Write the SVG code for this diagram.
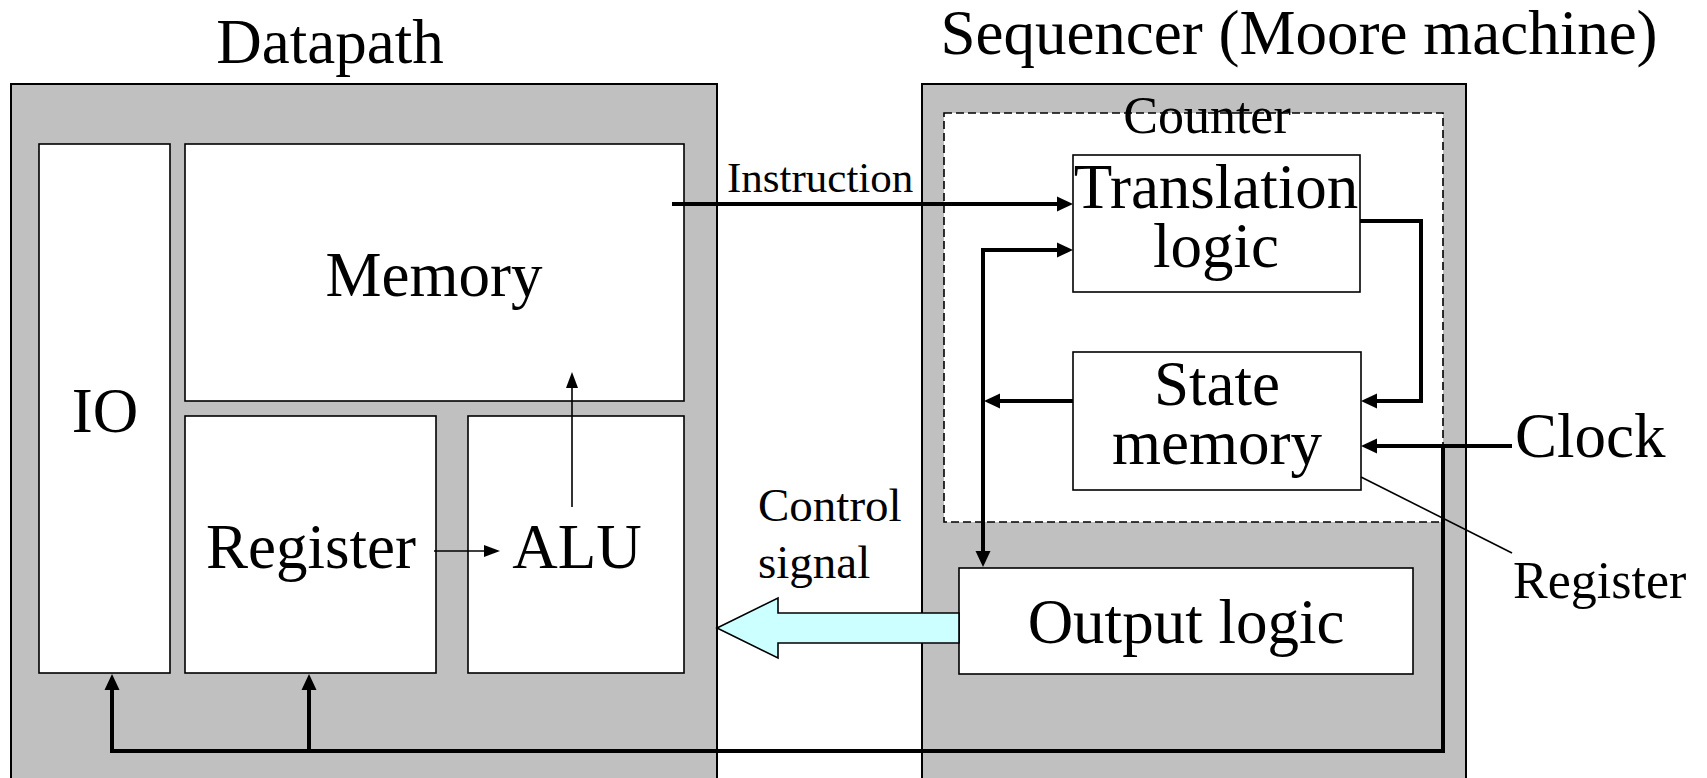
<svg xmlns="http://www.w3.org/2000/svg" width="1707" height="778" viewBox="0 0 1707 778">
<style>
  text { font-family: "Liberation Serif", "Times New Roman", serif; fill: #000; }
  .big { font-size: 63px; }
  .mid { font-size: 52px; }
  .sm { font-size: 47px; }
  .xs { font-size: 43px; }
  .frame { fill: #C0C0C0; stroke: #000; stroke-width: 2; }
  .box { fill: #FFFFFF; stroke: #000; stroke-width: 1.6; }
  .dash { fill: #FFFFFF; stroke: #000; stroke-width: 1.6; stroke-dasharray: 8 4; }
  .thick { fill: none; stroke: #000; stroke-width: 4; stroke-linejoin: miter; }
  .thin { fill: none; stroke: #000; stroke-width: 1.6; }
</style>
<defs>
  <marker id="ah" markerUnits="userSpaceOnUse" markerWidth="16" markerHeight="16" viewBox="0 0 16 16" refX="10" refY="8" orient="auto">
    <path d="M0,0.5 L16,8 L0,15.5 z" fill="#000"/>
  </marker>
  <marker id="as" markerUnits="userSpaceOnUse" markerWidth="16" markerHeight="12" viewBox="0 0 16 12" refX="12" refY="6" orient="auto">
    <path d="M0,0 L16,6 L0,12 z" fill="#000"/>
  </marker>
</defs>
<rect width="1707" height="778" fill="#FFFFFF"/>

<g id="datapath">
  <rect class="frame" x="11" y="84" width="706" height="710"/>
  <text class="big" x="330" y="63" text-anchor="middle">Datapath</text>
</g>
<g id="io">
  <rect class="box" x="39" y="144" width="131" height="529"/>
  <text class="big" x="105" y="432" text-anchor="middle">IO</text>
</g>
<g id="memory">
  <rect class="box" x="185" y="144" width="499" height="257"/>
  <text class="big" x="434" y="296" text-anchor="middle">Memory</text>
</g>
<g id="register">
  <rect class="box" x="185" y="416" width="251" height="257"/>
  <text class="big" x="311" y="568" text-anchor="middle">Register</text>
</g>
<g id="alu">
  <rect class="box" x="468" y="416" width="216" height="257"/>
  <text class="big" x="577" y="568" text-anchor="middle">ALU</text>
</g>

<g id="sequencer">
  <rect class="frame" x="922" y="84" width="544" height="710"/>
  <text class="big" x="1299" y="54" text-anchor="middle">Sequencer (Moore machine)</text>
</g>
<g id="counter">
  <rect class="dash" x="944" y="113" width="499" height="409"/>
  <text class="mid" x="1207" y="133" text-anchor="middle">Counter</text>
</g>
<g id="translation">
  <rect class="box" x="1073" y="155" width="287" height="137"/>
  <text class="big" x="1216" y="208" text-anchor="middle">Translation</text>
  <text class="big" x="1216" y="267" text-anchor="middle">logic</text>
</g>
<g id="state-memory">
  <rect class="box" x="1073" y="352" width="288" height="138"/>
  <text class="big" x="1217" y="405" text-anchor="middle">State</text>
  <text class="big" x="1217" y="464" text-anchor="middle">memory</text>
</g>
<g id="output-logic">
  <rect class="box" x="959" y="568" width="454" height="106"/>
  <text class="big" x="1186" y="643" text-anchor="middle">Output logic</text>
</g>

<g id="connectors">
  <path class="thick" d="M672,204 H1067" marker-end="url(#ah)"/>
  <path class="thick" d="M1360,221 H1421 V401 H1367" marker-end="url(#ah)"/>
  <path class="thick" d="M1073,401 H990" marker-end="url(#ah)"/>
  <path class="thick" d="M983,400 V250 H1067" marker-end="url(#ah)"/>
  <path class="thick" d="M983,398 V561" marker-end="url(#ah)"/>
  <path class="thick" d="M1512,446 H1367" marker-end="url(#ah)"/>
  <path class="thick" d="M1443,444 V751 H112 V680" marker-end="url(#ah)"/>
  <path class="thick" d="M309,751 V680" marker-end="url(#ah)"/>
  <path class="thin" d="M434,551 H496" marker-end="url(#as)"/>
  <path class="thin" d="M572,507 V376" marker-end="url(#as)"/>
  <path class="thin" d="M1361,477 L1512,553"/>
  <polygon points="959,613 778,613 778,598 717,628 778,658 778,643 959,643" fill="#CCFFFF" stroke="#000" stroke-width="1.6"/>
</g>

<g id="labels">
  <text class="xs" x="727" y="192">Instruction</text>
  <text class="sm" x="758" y="521">Control</text>
  <text class="sm" x="758" y="578">signal</text>
  <text class="big" x="1515" y="457">Clock</text>
  <text class="mid" x="1513" y="598">Register</text>
</g>
</svg>
